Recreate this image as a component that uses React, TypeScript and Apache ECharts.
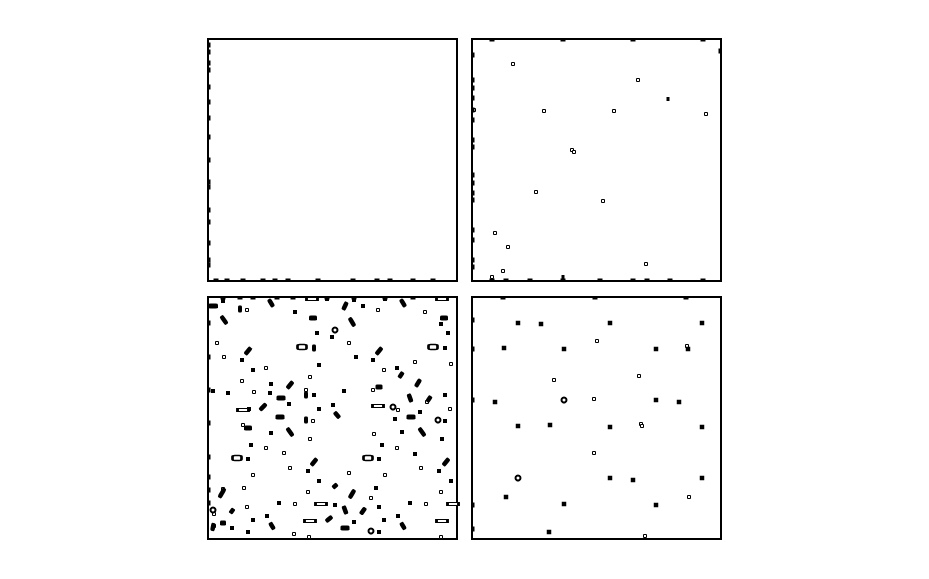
import React, { useEffect, useRef } from "react";
import * as echarts from "echarts";

// Panel coordinate space: x 0..249 (left→right), y 0..242 (top→bottom)
const X_MAX = 249;
const Y_MAX = 242;

// ---------- Panel 1 (top-left): only edge fragments ----------
const p1LeftEdge = [6, 13, 24, 31, 48, 63, 79, 98, 121, 143, 148, 171, 183, 204, 221, 226];
const p1BottomEdge = [8, 19, 35, 55, 67, 80, 110, 145, 169, 182, 205, 225];

// ---------- Panel 2 (top-right) ----------
const p2Hollow = [
  [41, 25], [166, 41], [2, 71], [72, 72], [142, 72], [234, 75], [100, 111], [102, 113],
  [64, 153], [131, 162], [23, 194], [36, 208], [174, 225], [31, 232], [20, 238],
];
const p2Filled = [[196, 60], [91, 238]];
const p2LeftEdge = [16, 41, 49, 59, 71, 81, 101, 108, 136, 144, 154, 161, 191, 201, 221, 228];
const p2TopEdge = [20, 91, 161, 231];
const p2BottomEdge = [20, 34, 58, 91, 128, 161, 175, 198, 231];
const p2RightEdge = [12];

// ---------- Panel 3 (bottom-left) ----------
const p3Hollow = [
  [39, 13], [170, 13], [217, 15], [9, 46], [141, 46], [16, 60], [207, 65], [243, 67],
  [58, 71], [176, 73], [102, 80], [34, 84], [46, 95], [98, 93], [165, 93], [219, 105],
  [190, 113], [242, 112], [105, 124], [35, 128], [102, 142], [166, 137], [58, 151],
  [189, 151], [76, 156], [82, 171], [141, 176], [213, 171], [45, 178], [177, 178],
  [36, 191], [100, 195], [233, 195], [163, 201], [87, 207], [218, 207], [39, 210],
  [6, 217], [86, 237], [101, 240], [233, 240], [15, 192], [6, 229],
];
const p3Filled = [
  [15, 4], [87, 15], [119, 2], [146, 3], [155, 9], [177, 2], [233, 27], [109, 36],
  [124, 40], [240, 36], [237, 51], [148, 60], [34, 63], [165, 63], [111, 68], [45, 73],
  [189, 71], [63, 87], [5, 94], [20, 96], [62, 96], [106, 98], [136, 94], [237, 98],
  [81, 107], [41, 112], [111, 112], [125, 108], [212, 115], [187, 122], [237, 124],
  [63, 136], [194, 135], [234, 142], [43, 148], [174, 148], [207, 157], [40, 162],
  [171, 162], [100, 174], [231, 174], [111, 184], [243, 184], [168, 191], [71, 206],
  [127, 208], [202, 206], [171, 210], [59, 219], [45, 223], [146, 225], [176, 223],
  [190, 219], [24, 231], [40, 235], [171, 235],
];
const p3TallDots = [[106, 51], [98, 98], [98, 123], [32, 12]];
const p3Blobs = [
  [5, 9, 10], [105, 21, 8], [236, 21, 8], [73, 101, 9], [72, 120, 9], [203, 120, 9],
  [40, 131, 8], [137, 231, 9], [171, 90, 7], [15, 226, 6],
];
const p3HollowBlobs = [[94, 50], [225, 50], [29, 161], [160, 161]];
const p3Rings = [[127, 33], [185, 110], [230, 123], [163, 234], [5, 213]];
// [x, y, angle (deg, counter-clockwise), length]
const p3Rods = [
  [63, 6, -60, 9], [137, 9, 65, 9], [195, 6, -60, 9], [16, 23, -55, 10],
  [144, 25, -60, 10], [40, 54, 50, 9], [171, 54, 50, 9], [193, 78, 55, 7],
  [82, 88, 50, 9], [210, 86, 60, 9], [202, 101, -70, 9], [55, 110, 45, 9],
  [221, 102, 55, 7], [129, 118, -50, 8], [82, 135, -55, 10], [214, 135, -55, 10],
  [106, 165, 50, 9], [238, 165, 50, 9], [127, 189, 40, 6], [14, 196, 60, 11],
  [144, 197, 60, 10], [24, 214, 55, 6], [137, 213, -70, 9], [155, 214, 55, 8],
  [121, 222, 40, 8], [64, 229, -60, 8], [195, 229, -60, 8], [5, 230, 80, 8],
];
const p3HollowRods = [
  [104, 2], [234, 2], [35, 113], [170, 109], [113, 207], [245, 207], [102, 224], [234, 224],
];
const p3TopEdge = [15, 32, 45, 69, 85, 119, 146, 177, 205];
const p3LeftEdge = [26, 60, 93, 126, 160, 180, 193, 206];

// ---------- Panel 4 (bottom-right) ----------
const p4Hollow = [
  [125, 44], [215, 49], [82, 83], [167, 79], [122, 102], [169, 127], [170, 129],
  [122, 156], [217, 200], [173, 239],
];
const p4Filled = [
  [46, 26], [69, 27], [138, 26], [230, 26], [32, 51], [92, 52], [184, 52], [216, 52],
  [23, 105], [184, 103], [207, 105], [46, 129], [78, 128], [138, 130], [230, 130],
  [138, 181], [161, 183], [230, 181], [34, 200], [92, 207], [184, 208], [77, 235],
];
const p4Rings = [[92, 103], [46, 181]];
const p4TopEdge = [31, 123, 214];
const p4LeftEdge = [23, 52, 103, 208, 232];

const GRIDS = [
  { left: 208, top: 39 },
  { left: 472, top: 39 },
  { left: 208, top: 297 },
  { left: 472, top: 297 },
];

const HOLLOW = { color: "#fff", borderColor: "#000", borderWidth: 1, opacity: 1 };
const FILLED = { color: "#000", opacity: 1 };
const THICK = { color: "#fff", borderColor: "#000", borderWidth: 2, opacity: 1 };
const HOLLOW_ROD = { color: "#fff", borderColor: "#000", borderWidth: 1.5, opacity: 1 };

function layer(gi: number, items: any[], symbol: string, style: any, z = 3) {
  return {
    type: "scatter",
    xAxisIndex: gi,
    yAxisIndex: gi,
    symbol,
    clip: false,
    silent: true,
    z,
    itemStyle: style,
    emphasis: { disabled: true },
    data: items,
  };
}
const simple = (arr: number[][], size: any) =>
  arr.map((d) => ({ value: [d[0], d[1]], symbolSize: size }));

function edgeMarks(left: number[], top: number[], bottom: number[], right: number[]) {
  const out: any[] = [];
  left.forEach((y) => out.push({ value: [1, y], symbolSize: [3, 5] }));
  right.forEach((y) => out.push({ value: [X_MAX - 1, y], symbolSize: [3, 5] }));
  top.forEach((x) => out.push({ value: [x, 1], symbolSize: [5, 3] }));
  bottom.forEach((x) => out.push({ value: [x, Y_MAX - 1], symbolSize: [5, 3] }));
  return out;
}

export default function App() {
  const ref = useRef<HTMLDivElement>(null);
  useEffect(() => {
    if (!ref.current) return;
    const chart = echarts.init(ref.current, null, { renderer: "svg" });
    const grid = GRIDS.map((g) => ({
      left: g.left,
      top: g.top,
      width: 249,
      height: 242,
      show: true,
      borderColor: "#000",
      borderWidth: 2,
      backgroundColor: "transparent",
    }));
    const axisCommon = {
      axisLine: { show: false },
      axisTick: { show: false },
      axisLabel: { show: false },
      splitLine: { show: false },
    };
    const xAxis = GRIDS.map((_, i) => ({ type: "value", gridIndex: i, min: 0, max: X_MAX, ...axisCommon }));
    const yAxis = GRIDS.map((_, i) => ({ type: "value", gridIndex: i, min: 0, max: Y_MAX, inverse: true, ...axisCommon }));

    const series: any[] = [
      // panel 1
      layer(0, edgeMarks(p1LeftEdge, [], p1BottomEdge, []), "rect", FILLED),
      // panel 2
      layer(1, simple(p2Hollow, 3), "rect", HOLLOW),
      layer(1, simple(p2Filled, [3, 4]), "rect", FILLED),
      layer(1, edgeMarks(p2LeftEdge, p2TopEdge, p2BottomEdge, p2RightEdge), "rect", FILLED),
      // panel 3
      layer(2, simple(p3Hollow, 3), "rect", HOLLOW),
      layer(2, simple(p3Filled, [4, 4]), "rect", FILLED),
      layer(2, simple(p3TallDots, [4, 7]), "roundRect", FILLED),
      layer(2, p3Blobs.map((d) => ({ value: [d[0], d[1]], symbolSize: [d[2], 5] })), "roundRect", FILLED),
      layer(2, simple(p3HollowBlobs, [9, 5]), "roundRect", THICK),
      layer(2, simple(p3Rings, 5), "circle", THICK),
      layer(
        2,
        p3Rods.map((d) => ({ value: [d[0], d[1]], symbolSize: [d[3], 4.5], symbolRotate: d[2] })),
        "roundRect",
        FILLED
      ),
      layer(2, simple(p3HollowRods, [11, 3]), "rect", HOLLOW_ROD),
      layer(2, edgeMarks(p3LeftEdge, p3TopEdge, [], []), "rect", FILLED),
      // panel 4
      layer(3, simple(p4Hollow, 3), "rect", HOLLOW),
      layer(3, simple(p4Filled, [4.5, 4.5]), "rect", FILLED),
      layer(3, simple(p4Rings, 5), "circle", THICK),
      layer(3, edgeMarks(p4LeftEdge, p4TopEdge, [], []), "rect", FILLED),
    ];

    chart.setOption({
      animation: false,
      backgroundColor: "#fff",
      grid,
      xAxis,
      yAxis,
      series,
    });
    return () => chart.dispose();
  }, []);
  return (
    <div
      ref={ref}
      style={{ position: "fixed", left: 0, top: 0, width: 929, height: 579, background: "#fff" }}
    />
  );
}
